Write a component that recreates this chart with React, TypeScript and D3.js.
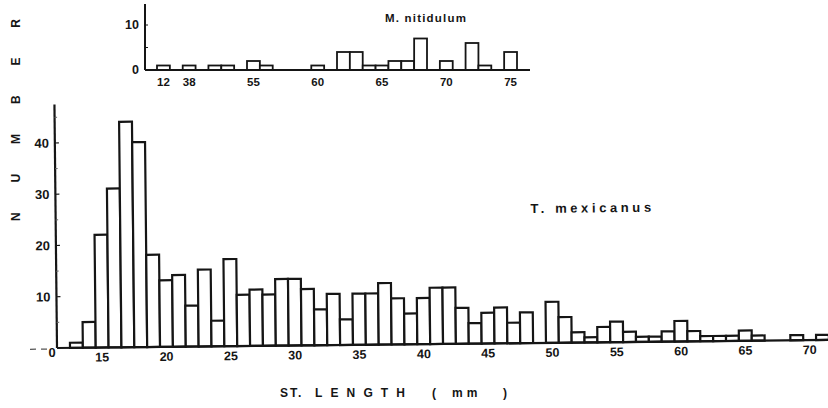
import React from 'react';
import * as d3 from 'd3';

const width = 828;
const height = 408;

// T. mexicanus, standard length in 1 mm classes
const mexLengths = [
  13, 14, 15, 16, 17, 18, 19, 20, 21, 22,
  23, 24, 25, 26, 27, 28, 29, 30, 31, 32,
  33, 34, 35, 36, 37, 38, 39, 40, 41, 42,
  43, 44, 45, 46, 47, 48, 49, 50, 51, 52,
  53, 54, 55, 56, 57, 58, 59, 60, 61, 62,
  63, 64, 65, 66, 67, 68, 69, 70, 71,
];
const mexCounts = [
  1, 5, 22, 31, 44, 40, 18, 13, 14, 8,
  15, 5, 17, 10, 11, 10, 13, 13, 11, 7,
  10, 5, 10, 10, 12, 9, 6, 9, 11, 11,
  7, 4, 6, 7, 4, 6, 0, 8, 5, 2,
  1, 3, 4, 2, 1, 1, 2, 4, 2, 1,
  1, 1, 2, 1, 0, 0, 1, 0, 1,
];
const mexXTicks = [15, 20, 25, 30, 35, 40, 45, 50, 55, 60, 65, 70];
const mexYTicks = [10, 20, 30, 40];
const mexMinorTicks = [5, 15, 25, 35, 45];

// M. nitidulum inset (axis is broken after 12 and 38)
const nitLengths = [12, 38, 52, 53, 55, 56, 60, 62, 63, 64, 65, 66, 67, 68, 70, 72, 73, 75];
const nitCounts = [1, 1, 1, 1, 2, 1, 1, 4, 4, 1, 1, 2, 2, 7, 2, 6, 1, 4];
const nitXTicks = [12, 38, 55, 60, 65, 70, 75];
const nitYTicks = [0, 10];

const font = '"Liberation Sans", Arial, sans-serif';
const ink = '#151515';

export default function App() {
  // main chart
  const x = d3.scaleLinear().domain([12.5, 71.5]).range([70, 829]);
  const y = d3.scaleLinear().domain([0, 40]).range([348, 143]);
  const axisX = 57;

  // inset: slots of the same width, with the gaps squeezed out
  const slot = d3.scaleLinear().domain([47.5, 75.5]).range([157, 517]);
  const ix = d3
    .scaleLinear()
    .domain([11.5, 12.5, 37.5, 38.5, 51.5, 75.5])
    .range([47.5, 48.5, 49.5, 50.5, 51.5, 75.5].map((s) => slot(s)));
  const iy = d3.scaleLinear().domain([0, 10]).range([70, 25]);
  const insetAxisX = 145;

  return (
    <svg
      width={width}
      height={height}
      style={{ position: 'absolute', left: 0, top: 0, background: '#fff' }}
      fontFamily={font}
      fontWeight="bold"
      fill={ink}
    >
      {/* inset */}
      <g>
        {nitLengths.map((v, i) => (
          <rect
            key={v}
            x={ix(v - 0.5)}
            y={iy(nitCounts[i])}
            width={ix(v + 0.5) - ix(v - 0.5)}
            height={iy(0) - iy(nitCounts[i])}
            fill="#fff"
            stroke={ink}
            strokeWidth={1.8}
          />
        ))}
        <line x1={insetAxisX} x2={530} y1={iy(0)} y2={iy(0)} stroke={ink} strokeWidth={2} />
        <line x1={insetAxisX} x2={insetAxisX} y1={4} y2={iy(0)} stroke={ink} strokeWidth={2} />
        <line x1={insetAxisX} x2={insetAxisX + 3} y1={iy(5)} y2={iy(5)} stroke={ink} strokeWidth={1} />
        <line x1={insetAxisX} x2={insetAxisX + 3} y1={iy(10)} y2={iy(10)} stroke={ink} strokeWidth={1} />
        {nitYTicks.map((t) => (
          <text key={t} x={insetAxisX - 6} y={iy(t)} dy="0.35em" textAnchor="end" fontSize={12.5}>
            {t}
          </text>
        ))}
        {nitXTicks.map((t) => (
          <text key={t} x={ix(t)} y={iy(0) + 16} textAnchor="middle" fontSize={11.5}>
            {t}
          </text>
        ))}
        <text x={385} y={22} fontSize={11.5} letterSpacing={1.2}>
          M. nitidulum
        </text>
      </g>

      {/* main histogram */}
      <g transform={`rotate(-0.6 ${axisX} ${y(0)})`}>
        {mexLengths.map((v, i) =>
          mexCounts[i] > 0 ? (
            <rect
              key={v}
              x={x(v - 0.5)}
              y={y(mexCounts[i])}
              width={x(v + 0.5) - x(v - 0.5)}
              height={y(0) - y(mexCounts[i])}
              fill="#fff"
              stroke={ink}
              strokeWidth={2.2}
            />
          ) : null
        )}
        <line x1={axisX} x2={840} y1={y(0)} y2={y(0)} stroke={ink} strokeWidth={2.2} />
        <line x1={30} x2={52} y1={y(0) + 1} y2={y(0) + 1} stroke="#555" strokeWidth={1.2} strokeDasharray="6 5" />
        <line x1={axisX} x2={axisX} y1={y(47.5)} y2={y(0)} stroke={ink} strokeWidth={2.2} />
        {mexYTicks.map((t) => (
          <g key={t}>
            <line x1={axisX} x2={axisX + 4} y1={y(t)} y2={y(t)} stroke={ink} strokeWidth={1.2} />
            <text x={51} y={y(t)} dy="0.35em" textAnchor="end" fontSize={13}>
              {t}
            </text>
          </g>
        ))}
        {mexMinorTicks.map((t) => (
          <line key={t} x1={axisX} x2={axisX + 2.5} y1={y(t)} y2={y(t)} stroke="#666" strokeWidth={1} />
        ))}
        <text x={52} y={y(0) + 9} textAnchor="middle" fontSize={13}>
          0
        </text>
        {mexXTicks.map((t) => (
          <text key={t} x={x(t)} y={y(0) + 14} textAnchor="middle" fontSize={12.5}>
            {t}
          </text>
        ))}
        <text x={532} y={218} fontSize={13} letterSpacing={3.6}>
          T. mexicanus
        </text>
      </g>

      {/* axis titles */}
      <text
        transform="translate(20 120) rotate(-90)"
        textAnchor="middle"
        fontSize={12}
        textLength={202}
        lengthAdjust="spacing"
      >
        NUMBER
      </text>
      <text y={397} fontSize={12}>
        <tspan x={280} letterSpacing={2}>ST.</tspan>
        <tspan x={315} textLength={90} lengthAdjust="spacing">LENGTH</tspan>
        <tspan x={432}>(</tspan>
        <tspan x={452} letterSpacing={4}>mm</tspan>
        <tspan x={503}>)</tspan>
      </text>
    </svg>
  );
}
